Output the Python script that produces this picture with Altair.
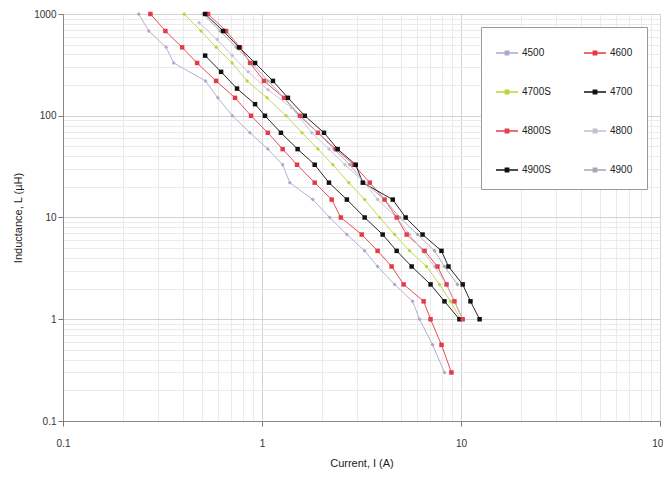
import altair as alt
import pandas as pd

series_names = ["4500", "4600", "4700S", "4700", "4800S", "4800", "4900S", "4900"]
series_colors = ["#b0a6cc", "#e23a46", "#b6d63e", "#111111", "#e2404e", "#c2c0d0", "#111111", "#a6a6b4"]
square_series = ["4600", "4700", "4800S", "4900S"]

L_4500 = [1000, 680, 470, 330, 220, 150, 100, 68, 47, 33, 22, 15, 10, 6.8, 4.7, 3.3, 2.2, 1.5, 1.0, 0.56, 0.3]
I_4500 = [0.24, 0.27, 0.33, 0.36, 0.52, 0.6, 0.71, 0.87, 1.07, 1.27, 1.38, 1.8, 2.19, 2.67, 3.28, 3.81, 4.64, 5.71, 6.19, 7.2, 8.26]

L_4600 = [1000, 680, 470, 330, 220, 150, 100, 68, 47, 33, 22, 15, 10, 6.8, 4.7, 3.3, 2.2, 1.5, 1.0, 0.56, 0.3]
I_4600 = [0.275, 0.327, 0.397, 0.472, 0.588, 0.732, 0.881, 1.07, 1.27, 1.5, 1.84, 2.24, 2.49, 3.17, 3.81, 4.48, 5.15, 6.49, 7.03, 7.98, 8.95]

L_4700S = [1000, 680, 470, 330, 220, 150, 100, 68, 47, 33, 22, 15, 10, 6.8, 4.7, 3.3, 2.2, 1.5, 1.0]
I_4700S = [0.406, 0.494, 0.588, 0.708, 0.841, 1.06, 1.32, 1.59, 1.91, 2.27, 2.73, 3.28, 3.9, 4.64, 5.52, 6.71, 7.8, 8.86, 9.94]

L_4700 = [390, 270, 185, 130, 100, 68, 47, 33, 22, 15, 10, 6.8, 4.7, 3.3, 2.2, 1.5, 1.0]
I_4700 = [0.518, 0.623, 0.749, 0.923, 1.035, 1.245, 1.51, 1.84, 2.17, 2.67, 3.28, 4.04, 4.75, 5.65, 7.03, 8.26, 9.82]

L_4800S = [1000, 680, 470, 330, 220, 150, 100, 68, 47, 33, 22, 15, 10, 6.8, 4.7, 3.3, 2.2, 1.5, 1.0]
I_4800S = [0.536, 0.66, 0.776, 0.871, 1.023, 1.29, 1.55, 1.91, 2.35, 2.89, 3.48, 4.13, 4.75, 5.33, 6.56, 7.62, 8.46, 9.27, 10.2]

L_4800 = [820, 560, 390, 270, 180, 120, 68, 47, 33, 22, 15, 10, 6.8, 4.7, 3.3, 2.2, 1.5, 1.0]
I_4800 = [0.483, 0.595, 0.708, 0.851, 1.072, 1.41, 1.78, 2.17, 2.61, 3.28, 3.81, 4.75, 5.52, 6.41, 7.36, 8.46, 9.27, 10.2]

L_4900S = [1000, 680, 470, 330, 220, 150, 100, 68, 47, 33, 22, 15, 10, 6.8, 4.7, 3.3, 2.2, 1.5, 1.0]
I_4900S = [0.518, 0.638, 0.767, 0.923, 1.135, 1.35, 1.64, 2.05, 2.4, 2.96, 3.21, 4.54, 5.27, 6.41, 7.98, 8.65, 10.2, 11.16, 12.4]

L_4900 = [1000, 680, 470, 330, 220, 150, 100, 68, 47, 33, 22, 15, 10, 6.8, 4.7, 3.3, 2.2]
I_4900 = [0.506, 0.616, 0.741, 0.891, 1.072, 1.29, 1.55, 1.91, 2.3, 2.76, 3.28, 4.13, 4.92, 6.05, 7.36, 8.26, 9.6]

x_ticks = [0.1, 1, 10, 100]
y_ticks = [0.1, 1, 10, 100, 1000]
minor_mult = [1, 2, 3, 4, 5, 6, 7, 8, 9]

series_data = {
    "4500": (I_4500, L_4500), "4600": (I_4600, L_4600),
    "4700S": (I_4700S, L_4700S), "4700": (I_4700, L_4700),
    "4800S": (I_4800S, L_4800S), "4800": (I_4800, L_4800),
    "4900S": (I_4900S, L_4900S), "4900": (I_4900, L_4900),
}
rows = []
for name in series_names:
    cur, ind = series_data[name]
    for c, l in zip(cur, ind):
        rows.append({"series": name, "I": c, "L": l, "sq": name in square_series})
df = pd.DataFrame(rows)

x_grid = [round(d * m, 6) for d in x_ticks[:-1] for m in minor_mult] + [x_ticks[-1]]
y_grid = [round(d * m, 6) for d in y_ticks[:-1] for m in minor_mult] + [y_ticks[-1]]

major = "abs(log(datum.value)/LN10 - round(log(datum.value)/LN10)) < 0.001"
FONT = "Liberation Sans Narrow, Liberation Sans, Arial, sans-serif"


def make_axis(title, vals, label_pad, title_pad):
    return alt.Axis(
        values=vals,
        title=title,
        labelExpr=f"({major}) ? format(datum.value, '~g') : ''",
        gridColor={"condition": {"test": major, "value": "#d2d2d2"}, "value": "#eaeaea"},
        tickColor={"condition": {"test": major, "value": "#777777"}, "value": "transparent"},
        tickSize=5,
        domainColor="#888888",
        labelFont=FONT,
        labelFontSize=10,
        labelColor="#333333",
        labelPadding=label_pad,
        titleFont=FONT,
        titleFontSize=11,
        titleFontWeight="normal",
        titleColor="#222222",
        titlePadding=title_pad,
        labelOverlap=False,
        labelFlush=False,
    )


x_enc = alt.X("I:Q", scale=alt.Scale(type="log", domain=[0.1, 100], nice=False),
              axis=make_axis("Current, I (A)", x_grid, 12, 9))
y_enc = alt.Y("L:Q", scale=alt.Scale(type="log", domain=[0.1, 1000], nice=False),
              axis=make_axis("Inductance, L (µH)", y_grid, 2, 10))

legend_path = "M-1,0H1M-0.16,-0.16H0.16V0.16H-0.16Z"
color_scale = alt.Scale(domain=series_names, range=series_colors)

color_enc_line = alt.Color(
    "series:N",
    scale=color_scale,
    legend=alt.Legend(
        title=None,
        orient="none",
        direction="horizontal",
        legendX=418,
        legendY=13,
        columns=2,
        columnPadding=30,
        rowPadding=22,
        padding=14,
        gridAlign="all",
        strokeColor="#9a9a9a",
        fillColor="white",
        symbolType=legend_path,
        symbolSize=484,
        symbolStrokeWidth=1.3,
        symbolOpacity=1,
        labelFont=FONT,
        labelFontSize=10,
        labelColor="#222222",
        labelOffset=3,
    ),
)
color_enc_pt = alt.Color("series:N", scale=color_scale, legend=None)

lines = alt.Chart(df).mark_line(strokeWidth=1, opacity=0.9).encode(
    x=x_enc, y=y_enc, color=color_enc_line, detail="series:N"
)
pts_sq = alt.Chart(df).transform_filter("datum.sq").mark_point(
    filled=True, shape="square", size=20, opacity=1
).encode(x=x_enc, y=y_enc, color=color_enc_pt)
pts_dm = alt.Chart(df).transform_filter("!datum.sq").mark_point(
    filled=True, shape="diamond", size=16, opacity=1
).encode(x=x_enc, y=y_enc, color=color_enc_pt)

chart = (
    alt.layer(lines, pts_dm, pts_sq)
    .properties(
        width=597, height=407,
        autosize=alt.AutoSizeParams(type="none"),
        padding={"left": 55, "top": 6, "right": 3, "bottom": 53},
        background="white",
    )
    .configure_view(stroke=None)
)

chart.save("out.html", embed_options={"renderer": "svg", "actions": False})
